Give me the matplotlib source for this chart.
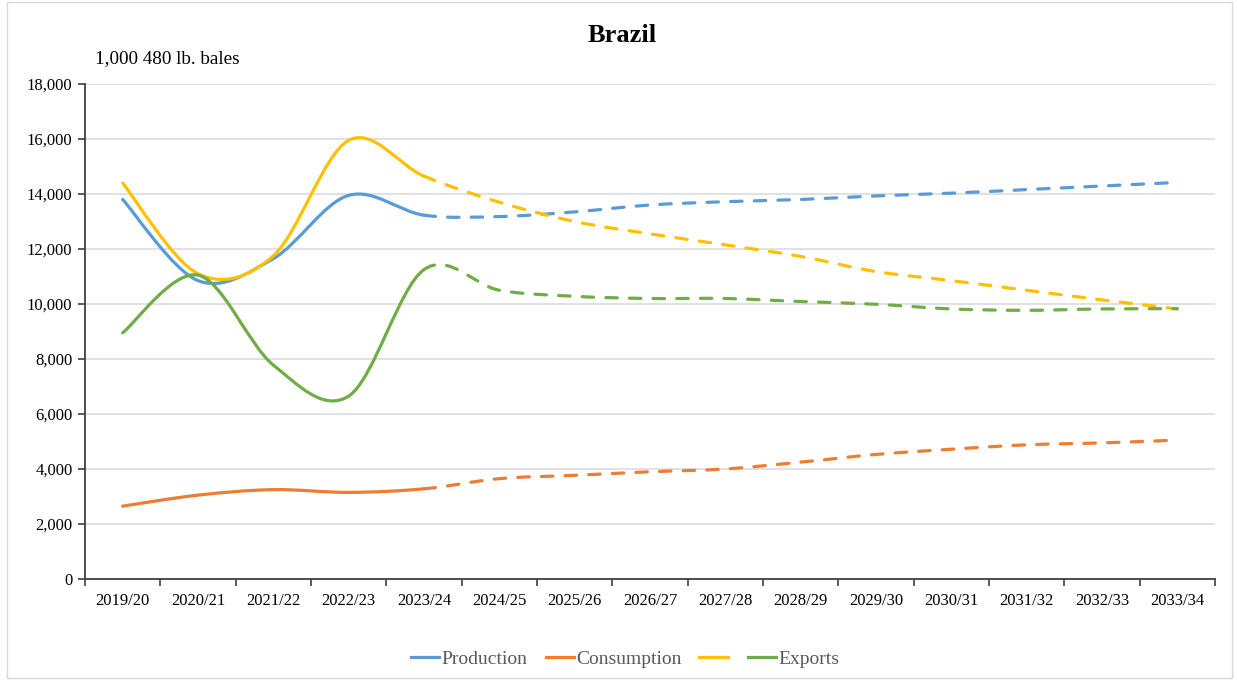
import matplotlib.pyplot as plt
import numpy as np
from matplotlib.path import Path
from matplotlib.patches import PathPatch, Rectangle
from matplotlib.lines import Line2D
from matplotlib.ticker import FuncFormatter, MultipleLocator

plt.rcParams["font.family"] = ["Liberation Serif", "DejaVu Serif"]

years = ["2019/20", "2020/21", "2021/22", "2022/23", "2023/24", "2024/25",
         "2025/26", "2026/27", "2027/28", "2028/29", "2029/30", "2030/31",
         "2031/32", "2032/33", "2033/34"]

# 1,000 480 lb. bales
production = [13800, 10850, 11650, 13950, 13230, 13180, 13350, 13600,
              13720, 13800, 13930, 14030, 14160, 14290, 14420]
consumption = [2650, 3050, 3250, 3150, 3280, 3650, 3770, 3900,
               4000, 4250, 4530, 4720, 4880, 4950, 5050]
stocks = [14400, 11100, 11750, 15950, 14650, 13700, 13000, 12550,
          12150, 11730, 11180, 10850, 10500, 10150, 9820]
exports = [8950, 11050, 7780, 6650, 11250, 10500, 10280, 10200,
           10200, 10090, 9990, 9820, 9770, 9820, 9830]

last_hist = 4  # index of 2023/24, where projections begin

series = [
    ("Production", production, "#5B9BD5"),
    ("Consumption", consumption, "#ED7D31"),
    ("", stocks, "#FFC000"),
    ("Exports", exports, "#70AD47"),
]


def smooth_path(x, y, start, stop):
    """Smoothed Bezier path through points start..stop, with the
    tangents taken from the whole series so the pieces join cleanly."""
    pts = np.column_stack([x, y]).astype(float)
    n = len(pts)
    verts = [pts[start]]
    codes = [Path.MOVETO]
    for i in range(start, stop):
        p_prev = pts[i - 1] if i > 0 else pts[i]
        p_next2 = pts[i + 2] if i + 2 < n else pts[i + 1]
        c1 = pts[i] + (pts[i + 1] - p_prev) / 6.0
        c2 = pts[i + 1] - (p_next2 - pts[i]) / 6.0
        verts += [c1, c2, pts[i + 1]]
        codes += [Path.CURVE4] * 3
    return Path(verts, codes)


fig = plt.figure(figsize=(12.37, 6.8), dpi=100)
ax = fig.add_axes([0.0687, 0.1485, 0.9135, 0.728])

lw = 2.3
x = np.arange(len(years))
for label, vals, color in series:
    hist = smooth_path(x, vals, 0, last_hist)
    proj = smooth_path(x, vals, last_hist, len(years) - 1)
    ax.add_patch(PathPatch(hist, fill=False, edgecolor=color, lw=lw,
                           capstyle="round", joinstyle="round", zorder=3))
    ax.add_patch(PathPatch(proj, fill=False, edgecolor=color, lw=lw,
                           linestyle=(0, (3.6, 3.8)), capstyle="round",
                           joinstyle="round", zorder=3))

ax.set_xlim(-0.5, len(years) - 0.5)
ax.set_ylim(0, 18000)

ax.yaxis.set_major_locator(MultipleLocator(2000))
ax.yaxis.set_major_formatter(FuncFormatter(lambda v, p: f"{int(v):,}"))
ax.grid(axis="y", color="#D9D9D9", lw=1.1, zorder=0)

ax.set_xticks(x)
ax.set_xticklabels(years)
ax.set_xticks(np.arange(len(years) + 1) - 0.5, minor=True)
ax.tick_params(axis="x", which="major", length=0, pad=10, labelsize=12)
ax.tick_params(axis="x", which="minor", length=5, width=1.2, color="#404040",
               direction="out")
ax.tick_params(axis="y", length=5, width=1.2, color="#404040", labelsize=12,
               pad=4)

for side in ["top", "right"]:
    ax.spines[side].set_visible(False)
for side in ["left", "bottom"]:
    ax.spines[side].set_color("#404040")
    ax.spines[side].set_linewidth(1.3)

fig.text(0.503, 0.948, "Brazil", ha="center", va="center", fontsize=19,
         fontweight="bold")
fig.text(0.077, 0.914, "1,000 480 lb. bales", ha="left", va="center",
         fontsize=13.8)

handles = [Line2D([], [], color=c, lw=lw) for _, _, c in series]
labels = [s[0] for s in series]
fig.legend(handles, labels, loc="center", bbox_to_anchor=(0.5055, 0.031),
           ncol=4, frameon=False, fontsize=14, handlelength=1.45,
           handletextpad=0.12, columnspacing=0.92, labelcolor="#595959")

# chart area border
fig.patches.append(Rectangle((0.006, 0.003), 0.99, 0.994,
                             transform=fig.transFigure, fill=False,
                             edgecolor="#D9D9D9", lw=1.0))

fig.savefig("out.png", dpi=100)
